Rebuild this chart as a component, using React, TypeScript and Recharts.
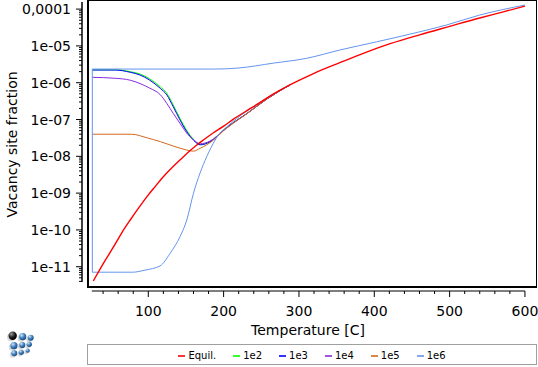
import React from 'react';
import { LineChart, Line, XAxis, YAxis, Legend, ReferenceLine } from 'recharts';

// temperatures [C] and vacancy site fractions
const TEMP_EQUIL = [27, 40, 54, 65, 76, 87, 98, 109, 120, 131, 142, 153, 164, 175, 186, 200, 213, 231, 246, 262, 288, 320, 355, 388, 421, 460, 500, 540, 570, 600];
const VAC_EQUIL = [4.1e-12, 1.2e-11, 3.5e-11, 8.5e-11, 1.86e-10, 3.9e-10, 7.9e-10, 1.5e-9, 2.8e-9, 4.8e-9, 7.9e-9, 1.29e-8, 2.0e-8, 2.95e-8, 4.3e-8, 6.6e-8, 1.02e-7, 1.75e-7, 2.7e-7, 4.4e-7, 8.7e-7, 1.8e-6, 3.55e-6, 6.6e-6, 1.15e-5, 2.0e-5, 3.4e-5, 5.75e-5, 8.3e-5, 1.2e-4];

const TEMP_NEQ = [25.7, 56, 76, 89, 102, 116, 124.5, 133, 142, 151, 160, 169, 182, 199.7, 213, 230.8, 257.3, 288];
const VAC_1E2 = [2.25e-6, 2.25e-6, 2.0e-6, 1.72e-6, 1.27e-6, 7.7e-7, 5.2e-7, 2.5e-7, 1.08e-7, 5.1e-8, 2.9e-8, 2.1e-8, 2.5e-8, 5.2e-8, 8.3e-8, 1.45e-7, 3.6e-7, 8.7e-7];
const VAC_1E3 = [2.21e-6, 2.21e-6, 1.92e-6, 1.62e-6, 1.17e-6, 7.0e-7, 4.7e-7, 2.25e-7, 9.8e-8, 4.7e-8, 2.75e-8, 2.05e-8, 2.5e-8, 5.1e-8, 8.2e-8, 1.45e-7, 3.6e-7, 8.7e-7];
const VAC_1E4 = [1.4e-6, 1.32e-6, 1.17e-6, 9.5e-7, 7.1e-7, 4.7e-7, 2.76e-7, 1.48e-7, 7.9e-8, 4.3e-8, 2.8e-8, 2.2e-8, 2.6e-8, 5.0e-8, 8.1e-8, 1.44e-7, 3.6e-7, 8.7e-7];

const TEMP_1E5 = [25.7, 78, 98, 116, 133, 151, 160, 169, 177.6, 186.4, 199.7, 213, 230.8, 257.3, 288];
const VAC_1E5 = [3.98e-8, 3.98e-8, 3.2e-8, 2.5e-8, 1.91e-8, 1.48e-8, 1.38e-8, 1.66e-8, 2.05e-8, 2.75e-8, 4.9e-8, 8.0e-8, 1.43e-7, 3.6e-7, 8.7e-7];

// 1e6: upper branch, the drop at the start, and the lower branch
const TEMP_1E6_UP = [25.7, 188, 219, 266, 310, 355, 403, 452, 496, 540, 600];
const VAC_1E6_UP = [2.35e-6, 2.35e-6, 2.5e-6, 3.4e-6, 4.6e-6, 7.8e-6, 1.29e-5, 2.2e-5, 3.7e-5, 6.9e-5, 1.29e-4];
const TEMP_1E6_DROP = [25.7, 25.7];
const VAC_1E6_DROP = [2.35e-6, 7.1e-12];
const TEMP_1E6_LOW = [25.7, 79.4, 95.7, 115.6, 128.9, 142.2, 151.1, 159.9, 168.7, 177.6, 188.7, 193, 204.2, 217.5, 230.8, 246, 262, 288];
const VAC_1E6_LOW = [7.1e-12, 7.1e-12, 8.1e-12, 1.05e-11, 2.3e-11, 6.6e-11, 1.86e-10, 9.8e-10, 3.5e-9, 9.8e-9, 2.75e-8, 3.8e-8, 6.3e-8, 1.07e-7, 1.7e-7, 2.7e-7, 4.4e-7, 8.7e-7];

const LEGEND_NAMES = ['Equil.', '1e2', '1e3', '1e4', '1e5', '1e6'];
const COLORS = ['#ff0000', '#00ff00', '#0000ff', '#8a2be2', '#d2691e', '#6495ed'];

const X_MAJOR = [100, 200, 300, 400, 500, 600];
const X_MINOR = [40, 60, 80, 120, 140, 160, 180, 220, 240, 260, 280, 320, 340, 360, 380, 420, 440, 460, 480, 520, 540, 560, 580];
const Y_MAJOR = [1e-11, 1e-10, 1e-9, 1e-8, 1e-7, 1e-6, 1e-5, 1e-4];
const Y_LABELS = ['1e-11', '1e-10', '1e-09', '1e-08', '1e-07', '1e-06', '1e-05', '0,0001'];

const X_DOMAIN = [12, 616];
const Y_DOMAIN = [2.19e-12, 1.56e-4];

const zip = (t: number[], v: number[]) => t.map((x, i) => ({ t: x, v: v[i] }));

const yMinor: number[] = [];
[1e-12, ...Y_MAJOR].forEach((d) => {
    for (let m = 2; m <= 9; m++) {
        const v = m * d;
        if (v >= 4e-12 && v < 1e-4) yMinor.push(v);
    }
});
const Y_TICKS = [...Y_MAJOR, ...yMinor];
const X_TICKS = [...X_MAJOR, ...X_MINOR];

const FONT = '"DejaVu Sans", Verdana, sans-serif';

const YTick = (props: any) => {
    const { x, y, payload } = props;
    const i = Y_MAJOR.indexOf(payload.value);
    return (
        <g>
            <line x1={x - (i >= 0 ? 6 : 3)} x2={x} y1={y} y2={y} stroke="#000" />
            {i >= 0 && (
                <text x={x - 11} y={y} dy={5} textAnchor="end" fontSize={14} fontFamily={FONT} fill="#000">
                    {Y_LABELS[i]}
                </text>
            )}
        </g>
    );
};

const XTick = (props: any) => {
    const { x, y, payload } = props;
    const major = X_MAJOR.includes(payload.value);
    return (
        <g>
            <line x1={x} x2={x} y1={y} y2={y + (major ? 6 : 3)} stroke="#000" />
            {major && (
                <text x={x} y={y + 25} textAnchor="middle" fontSize={14} fontFamily={FONT} fill="#000">
                    {payload.value}
                </text>
            )}
        </g>
    );
};

const renderLegend = () => (
    <div
        style={{
            boxSizing: 'border-box',
            width: 450,
            height: 21,
            border: '1px solid #a0a0a0',
            display: 'flex',
            justifyContent: 'center',
            alignItems: 'center',
            paddingTop: 2,
            fontFamily: FONT,
            fontSize: 10,
            color: '#000',
        }}
    >
        {LEGEND_NAMES.map((name, i) => (
            <span key={name} style={{ display: 'flex', alignItems: 'center', marginLeft: i ? 17 : 0 }}>
                <svg width={7} height={4} style={{ marginRight: 3 }}>
                    <line x1={0} x2={7} y1={2} y2={2} stroke={COLORS[i]} strokeWidth={1.6} />
                </svg>
                {name}
            </span>
        ))}
    </div>
);

const Logo = () => (
    <svg width={40} height={40} style={{ position: 'absolute', left: 0, top: 326 }}>
        <defs>
            <radialGradient id="gBlack" cx="35%" cy="30%" r="70%">
                <stop offset="0%" stopColor="#9a9a9a" />
                <stop offset="60%" stopColor="#1a1a1a" />
                <stop offset="100%" stopColor="#000" />
            </radialGradient>
            <radialGradient id="gBlue" cx="35%" cy="30%" r="70%">
                <stop offset="0%" stopColor="#d6e6f5" />
                <stop offset="55%" stopColor="#3f7fbf" />
                <stop offset="100%" stopColor="#1d4f86" />
            </radialGradient>
        </defs>
        {[
            [12.7, 9.7, 4.2, 'gBlack'],
            [22.7, 10.7, 3.6, 'gBlue'],
            [30.7, 11.7, 3, 'gBlue'],
            [14, 19.7, 3.6, 'gBlue'],
            [22.3, 19, 3.1, 'gBlue'],
            [29.3, 18.3, 2.6, 'gBlue'],
            [14.3, 27.3, 3, 'gBlue'],
            [21.3, 26.3, 2.6, 'gBlue'],
            [27.7, 24.7, 2.1, 'gBlue'],
        ].map(([cx, cy, r, g], i) => (
            <g key={i}>
                <circle cx={(cx as number) - 1.5} cy={(cy as number) + 1.5} r={r as number} fill="#d8d8d8" />
                <circle cx={cx as number} cy={cy as number} r={r as number} fill={`url(#${g})`} />
            </g>
        ))}
    </svg>
);

const App: React.FC = () => {
    return (
        <div style={{ position: 'absolute', left: 0, top: 0, width: 538, height: 367, background: '#fff' }}>
            <LineChart width={538} height={367} margin={{ top: 2, right: 1, left: 0, bottom: 10 }}>
                <XAxis
                    type="number"
                    dataKey="t"
                    domain={X_DOMAIN}
                    allowDataOverflow
                    ticks={X_TICKS}
                    interval={0}
                    tick={<XTick />}
                    tickLine={false}
                    axisLine={false}
                    tickSize={0}
                    tickMargin={0}
                    height={45}
                    label={(props: any) => {
                        const vb = props.viewBox;
                        return (
                            <text x={vb.x + vb.width / 2 - 1.5} y={vb.y + 44} textAnchor="middle" fontSize={14} fontFamily={FONT} fill="#000">
                                Temperature [C]
                            </text>
                        );
                    }}
                />
                <YAxis
                    type="number"
                    scale="log"
                    domain={Y_DOMAIN}
                    allowDataOverflow
                    ticks={Y_TICKS}
                    interval={0}
                    tick={<YTick />}
                    tickLine={false}
                    axisLine={false}
                    tickSize={0}
                    tickMargin={0}
                    width={82}
                    label={(props: any) => {
                        const vb = props.viewBox;
                        const cy = vb.y + vb.height / 2 - 2;
                        return (
                            <text x={17} y={cy} transform={`rotate(-90, 17, ${cy})`} textAnchor="middle" fontSize={14} fontFamily={FONT} fill="#000">
                                Vacancy site fraction
                            </text>
                        );
                    }}
                />
                <ReferenceLine segment={[{ x: X_DOMAIN[0], y: 3.84e-12 }, { x: X_DOMAIN[0], y: Y_DOMAIN[1] }]} stroke="#000" strokeWidth={1.5} ifOverflow="visible" />
                <ReferenceLine segment={[{ x: 25, y: Y_DOMAIN[0] }, { x: 600, y: Y_DOMAIN[0] }]} stroke="#000" strokeWidth={1.2} ifOverflow="visible" />
                <Line data={zip(TEMP_NEQ, VAC_1E2)} dataKey="v" name="1e2" type="monotone" stroke={COLORS[1]} strokeWidth={1} dot={false} activeDot={false} isAnimationActive={false} />
                <Line data={zip(TEMP_NEQ, VAC_1E3)} dataKey="v" name="1e3" type="monotone" stroke={COLORS[2]} strokeWidth={1} dot={false} activeDot={false} isAnimationActive={false} />
                <Line data={zip(TEMP_NEQ, VAC_1E4)} dataKey="v" name="1e4" type="monotone" stroke={COLORS[3]} strokeWidth={1} dot={false} activeDot={false} isAnimationActive={false} />
                <Line data={zip(TEMP_1E5, VAC_1E5)} dataKey="v" name="1e5" type="monotone" stroke={COLORS[4]} strokeWidth={1} dot={false} activeDot={false} isAnimationActive={false} />
                <Line data={zip(TEMP_1E6_UP, VAC_1E6_UP)} dataKey="v" name="1e6" type="monotone" stroke={COLORS[5]} strokeWidth={1} dot={false} activeDot={false} isAnimationActive={false} />
                <Line data={zip(TEMP_1E6_DROP, VAC_1E6_DROP)} dataKey="v" name="1e6 drop" legendType="none" type="linear" stroke={COLORS[5]} strokeWidth={1} dot={false} activeDot={false} isAnimationActive={false} />
                <Line data={zip(TEMP_1E6_LOW, VAC_1E6_LOW)} dataKey="v" name="1e6 low" legendType="none" type="monotone" stroke={COLORS[5]} strokeWidth={1} dot={false} activeDot={false} isAnimationActive={false} />
                <Line data={zip(TEMP_EQUIL, VAC_EQUIL)} dataKey="v" name="Equil." type="monotone" stroke={COLORS[0]} strokeWidth={1.4} dot={false} activeDot={false} isAnimationActive={false} />
                <Legend verticalAlign="bottom" content={renderLegend} wrapperStyle={{ left: 87, top: 344, width: 450, height: 21 }} />
            </LineChart>
            <div
                style={{
                    position: 'absolute',
                    left: 87,
                    top: 0,
                    width: 450,
                    height: 288,
                    boxSizing: 'border-box',
                    borderTop: '1px solid #000',
                    borderRight: '1px solid #000',
                    borderLeft: '2px solid #000',
                    borderBottom: '2px solid #000',
                    pointerEvents: 'none',
                }}
            />
            <Logo />
        </div>
    );
};

export default App;
